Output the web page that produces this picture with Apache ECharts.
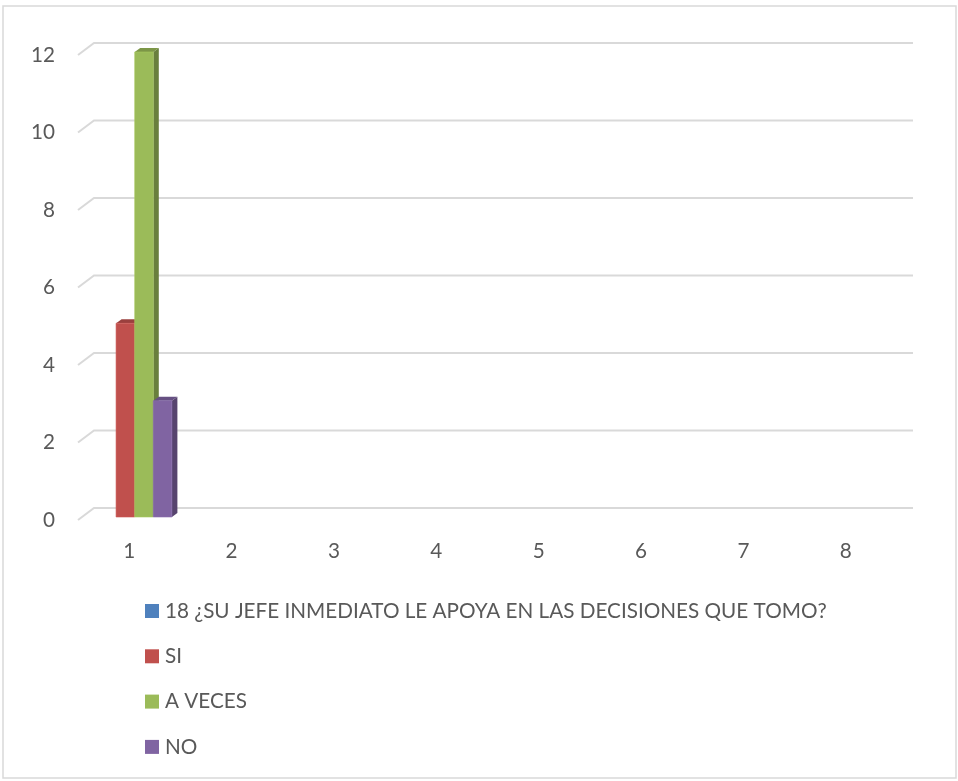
<!DOCTYPE html>
<html>
<head>
<meta charset="utf-8">
<script src="https://cdn.jsdelivr.net/npm/echarts@6/dist/echarts.min.js"></script>
<style>
  html, body { margin: 0; padding: 0; background: #fff; }
  #chart { width: 958px; height: 781px; }
</style>
</head>
<body>
<div id="chart"></div>
<script>
// datos (solo la categoría 1 tiene valores)
const categories = ['1', '2', '3', '4', '5', '6', '7', '8']
const seriesNames = ['18 ¿SU JEFE INMEDIATO LE APOYA EN LAS DECISIONES QUE TOMO?', 'SI', 'A VECES', 'NO']
const preguntaValues = [null, null, null, null, null, null, null, null]
const siValues = [5, null, null, null, null, null, null, null]
const aVecesValues = [12, null, null, null, null, null, null, null]
const noValues = [3, null, null, null, null, null, null, null]
const yTicks = [0, 2, 4, 6, 8, 10, 12]

const COLORS = ['#4F81BD', '#C0504D', '#9BBB59', '#8064A2']
const TEXT = '#595959'
const FONT = 'Lato'
const FONT_SIZE = 20.7

// efecto 3D: desplazamiento del plano del fondo y profundidad de las barras
const WALL_DX = 16
const WALL_DY = -12
const BAR_SHIFT_X = 5.5
const BAR_SHIFT_Y = -3
const BAR_DX = 5.5
const BAR_DY = -4
const GROUP_RATIO = 0.727

function shade(hex, f) {
  const n = parseInt(hex.slice(1), 16)
  const r = Math.min(255, Math.round(((n >> 16) & 255) * f))
  const g = Math.min(255, Math.round(((n >> 8) & 255) * f))
  const b = Math.min(255, Math.round((n & 255) * f))
  return 'rgb(' + r + ',' + g + ',' + b + ')'
}

function gridRender(params, api) {
  const cs = params.coordSys
  const v = api.value(0)
  const y = api.coord([0, v])[1]
  return {
    type: 'polyline',
    shape: {
      points: [
        [cs.x, y],
        [cs.x + WALL_DX, y + WALL_DY],
        [cs.x + cs.width + WALL_DX, y + WALL_DY]
      ]
    },
    style: { stroke: '#d9d9d9', lineWidth: 2, fill: null }
  }
}

function makeBarRender(k, color) {
  return function (params, api) {
    const val = api.value(1)
    if (val == null || isNaN(val)) return null
    const band = api.size([1, 0])[0]
    const groupW = band * GROUP_RATIO
    const barW = groupW / seriesNames.length
    const center = api.coord([api.value(0), 0])
    const x0 = center[0] - groupW / 2 + k * barW + BAR_SHIFT_X
    const x1 = x0 + barW
    const yb = center[1] + BAR_SHIFT_Y
    const yt = api.coord([api.value(0), val])[1] + BAR_SHIFT_Y
    return {
      type: 'group',
      children: [
        {
          type: 'polygon',
          shape: { points: [[x1, yb], [x1 + BAR_DX, yb + BAR_DY], [x1 + BAR_DX, yt + BAR_DY], [x1, yt]] },
          style: { fill: shade(color, 0.68) }
        },
        {
          type: 'polygon',
          shape: { points: [[x0, yt], [x1, yt], [x1 + BAR_DX, yt + BAR_DY], [x0 + BAR_DX, yt + BAR_DY]] },
          style: { fill: shade(color, 0.8) }
        },
        {
          type: 'rect',
          shape: { x: x0, y: yt, width: barW, height: yb - yt },
          style: { fill: color, stroke: shade(color, 1.08), lineWidth: 0.6 }
        }
      ]
    }
  }
}

const allValues = [preguntaValues, siValues, aVecesValues, noValues]

const barSeries = allValues.map((vals, k) => ({
  type: 'custom',
  name: seriesNames[k],
  color: COLORS[k],
  clip: false,
  z: 3,
  renderItem: makeBarRender(k, COLORS[k]),
  encode: { x: 0, y: 1 },
  data: vals.map((v, i) => [i, v])
}))

const chart = echarts.init(document.getElementById('chart'))
chart.setOption({
  animation: false,
  backgroundColor: '#fff',
  textStyle: { fontFamily: FONT },
  graphic: [{
    type: 'rect',
    shape: { x: 3, y: 6, width: 953, height: 772 },
    style: { fill: null, stroke: '#d9d9d9', lineWidth: 1.5 },
    silent: true
  }],
  grid: { left: 78, right: 61, top: 55, bottom: 261 },
  xAxis: {
    type: 'category',
    data: categories,
    axisLine: { show: false },
    axisTick: { show: false },
    axisLabel: { color: TEXT, fontSize: FONT_SIZE, fontFamily: FONT, margin: 21 }
  },
  yAxis: {
    type: 'value',
    min: 0,
    max: 12,
    interval: 2,
    axisLine: { show: false },
    axisTick: { show: false },
    splitLine: { show: false },
    axisLabel: { color: TEXT, fontSize: FONT_SIZE, fontFamily: FONT, margin: 23, padding: [7, 0, 0, 0] }
  },
  legend: {
    orient: 'vertical',
    left: 145,
    top: 599,
    padding: 0,
    itemWidth: 14,
    itemHeight: 14,
    itemGap: 21.3,
    icon: 'rect',
    data: seriesNames,
    textStyle: { color: TEXT, fontSize: FONT_SIZE, fontFamily: FONT, lineHeight: 24, padding: [0, 0, 0, 1] }
  },
  series: [
    {
      type: 'custom',
      name: 'grid3d',
      clip: false,
      silent: true,
      z: 1,
      renderItem: gridRender,
      encode: { y: 0 },
      data: yTicks.map(v => [v])
    }
  ].concat(barSeries)
})
</script>
</body>
</html>
